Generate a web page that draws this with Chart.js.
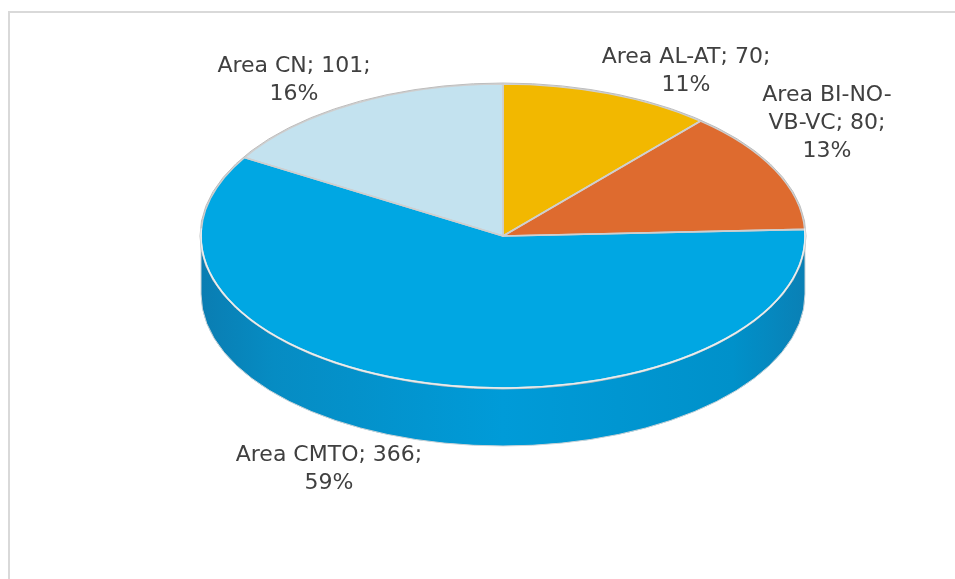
<!DOCTYPE html>
<html>
<head>
<meta charset="utf-8">
<script src="https://cdn.jsdelivr.net/npm/chart.js@4/dist/chart.umd.min.js"></script>
<style>
  html, body { margin: 0; padding: 0; background: #fff; overflow: hidden; }
  #wrap { position: relative; width: 955px; height: 579px; }
  #frame { position: absolute; left: 8px; top: 11px; width: 1200px; height: 1200px;
           border: 2px solid #d9d9d9; box-sizing: border-box; }
  canvas { position: absolute; left: 0; top: 0; }
</style>
</head>
<body>
<div id="wrap">
  <div id="frame"></div>
  <canvas id="chart" width="955" height="579"></canvas>
</div>
<script>
// data
const categories = ['Area AL-AT', 'Area BI-NO-VB-VC', 'Area CMTO', 'Area CN'];
const counts = [70, 80, 366, 101];

const topColors = ['#f2b800', '#de6b2f', '#00a7e3', '#c3e2ef'];
const sideColors = ['#c99900', '#b8551f', '#0094cf', '#9fc8d8'];

// label placement (centre of first line) and wrap width
const labelSpots = [
  { x: 686, y: 57, wrap: 400 },
  { x: 827, y: 95, wrap: 140 },
  { x: 329, y: 455, wrap: 400 },
  { x: 294, y: 66, wrap: 400 }
];

const geo = { cx: 503, cy: 236, rx: 302, ry: 152, depth: 58 };

function frontSegments(s, e) {
  const out = [];
  for (let k = -2; k <= 2; k++) {
    const lo = Math.max(s, k * 2 * Math.PI);
    const hi = Math.min(e, k * 2 * Math.PI + Math.PI);
    if (hi > lo) out.push([lo, hi]);
  }
  return out;
}

function wrapText(ctx, text, width) {
  const parts = text.match(/[^ -]+[ -]?/g);
  const lines = [];
  let cur = '';
  parts.forEach(p => {
    if (cur && ctx.measureText((cur + p).trim()).width > width) {
      lines.push(cur.trim());
      cur = p;
    } else {
      cur += p;
    }
  });
  if (cur) lines.push(cur.trim());
  return lines;
}

const pie3d = {
  id: 'pie3d',
  beforeDatasetsDraw(chart) {
    const ctx = chart.ctx;
    const meta = chart.getDatasetMeta(0);
    const first = meta.data[0];
    const { cx, cy, rx, ry, depth } = geo;

    // side walls
    meta.data.forEach((arc, i) => {
      frontSegments(arc.startAngle, arc.endAngle).forEach(([a, b]) => {
        ctx.beginPath();
        ctx.ellipse(cx, cy, rx, ry, 0, a, b);
        ctx.ellipse(cx, cy + depth, rx, ry, 0, b, a, true);
        ctx.closePath();
        const g = ctx.createLinearGradient(cx - rx, 0, cx + rx, 0);
        if (i === 2) {
          g.addColorStop(0, '#0a7db2');
          g.addColorStop(0.12, '#068cc3');
          g.addColorStop(0.5, '#009bd8');
          g.addColorStop(0.88, '#0091ca');
          g.addColorStop(1, '#0a80b5');
        } else {
          g.addColorStop(0, sideColors[i]);
          g.addColorStop(1, sideColors[i]);
        }
        ctx.fillStyle = g;
        ctx.fill();
        ctx.strokeStyle = '#c9d3d8';
        ctx.lineWidth = 1;
        ctx.stroke();
      });
    });

    // squash the library's circle into the top ellipse
    ctx.save();
    const R = first.outerRadius;
    ctx.translate(cx, cy);
    ctx.scale(rx / R, ry / R);
    ctx.translate(-first.x, -first.y);
  },
  afterDatasetsDraw(chart) {
    const ctx = chart.ctx;
    ctx.restore();
    const meta = chart.getDatasetMeta(0);
    const { cx, cy, rx, ry } = geo;

    // slice outlines
    meta.data.forEach(arc => {
      ctx.beginPath();
      ctx.moveTo(cx, cy);
      ctx.ellipse(cx, cy, rx, ry, 0, arc.startAngle, arc.endAngle);
      ctx.closePath();
      ctx.strokeStyle = '#cfcfcf';
      ctx.lineWidth = 1.6;
      ctx.lineJoin = 'round';
      ctx.stroke();
    });
    // rim highlight
    ctx.beginPath();
    ctx.ellipse(cx, cy, rx + 1, ry + 1, 0, 0, 2 * Math.PI);
    ctx.strokeStyle = '#bdbdbd';
    ctx.lineWidth = 1;
    ctx.stroke();
    ctx.beginPath();
    ctx.ellipse(cx, cy, rx, ry, 0, -0.05, Math.PI + 0.05);
    ctx.strokeStyle = '#e8eef0';
    ctx.lineWidth = 1.5;
    ctx.stroke();

    // data labels
    const total = counts.reduce((a, b) => a + b, 0);
    ctx.font = '22px "DejaVu Sans", sans-serif';
    ctx.fillStyle = '#404040';
    ctx.textAlign = 'center';
    ctx.textBaseline = 'middle';
    categories.forEach((cat, i) => {
      const spot = labelSpots[i];
      const pct = Math.round(counts[i] / total * 100) + '%';
      const lines = wrapText(ctx, cat + '; ' + counts[i] + ';', spot.wrap);
      lines.push(pct);
      lines.forEach((ln, j) => ctx.fillText(ln, spot.x, spot.y + j * 28));
    });
  }
};

new Chart(document.getElementById('chart'), {
  type: 'pie',
  data: {
    labels: categories,
    datasets: [{
      data: counts,
      backgroundColor: topColors,
      borderWidth: 0,
      clip: false
    }]
  },
  options: {
    responsive: false,
    animation: false,
    events: [],
    plugins: {
      legend: { display: false },
      tooltip: { enabled: false }
    }
  },
  plugins: [pie3d]
});
</script>
</body>
</html>
